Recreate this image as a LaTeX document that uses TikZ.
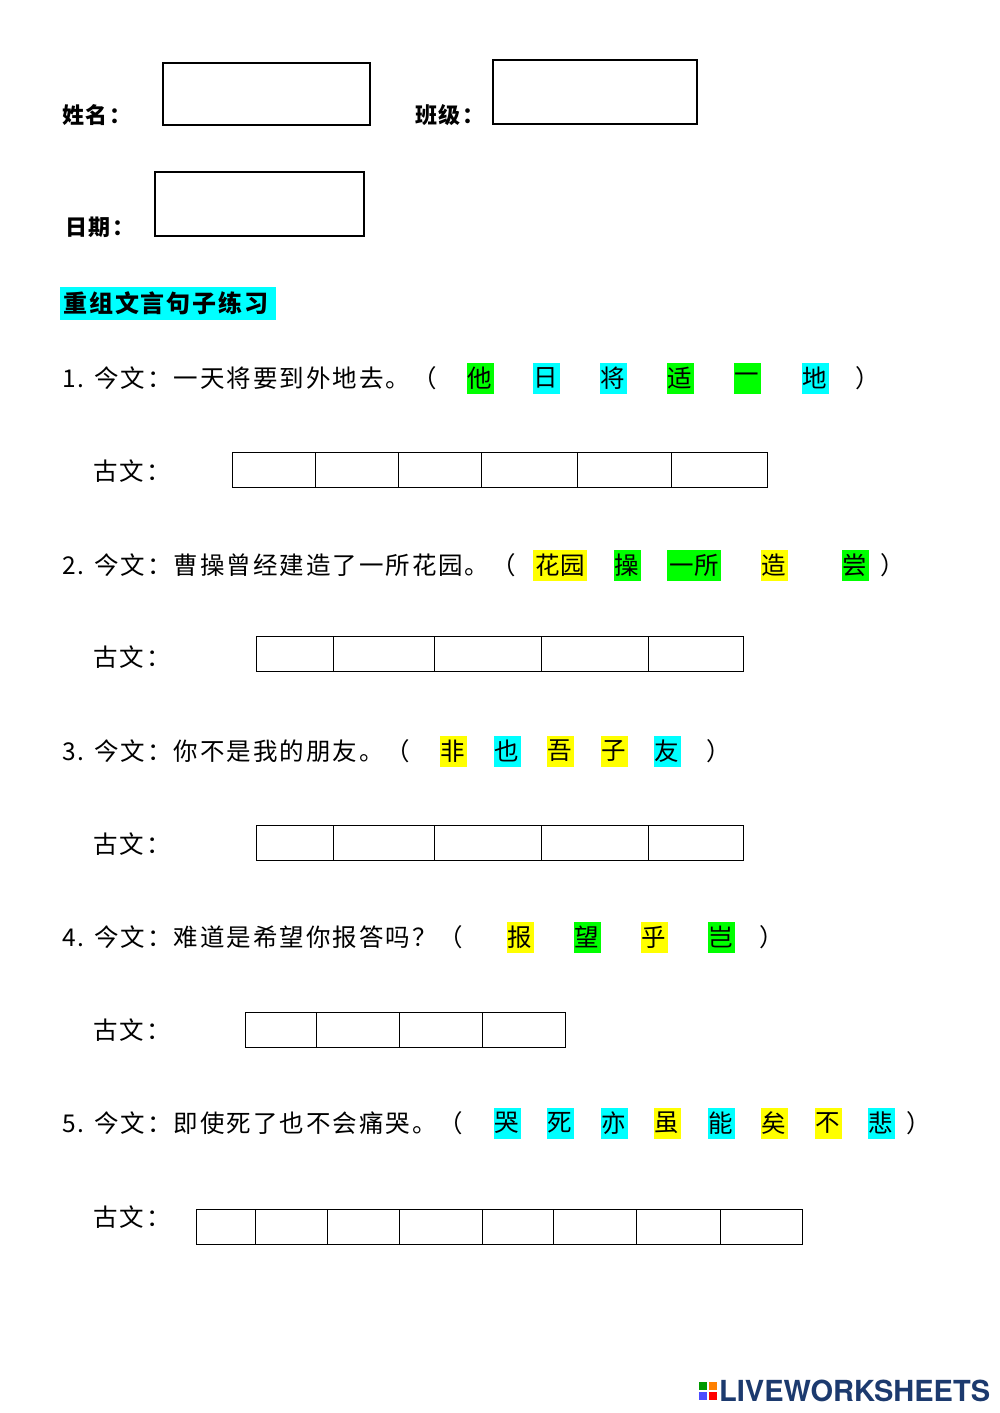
\documentclass[tikz,border=0pt]{standalone}
\usepackage{fontspec}
\setmainfont{Liberation Sans}
\newfontfamily\cjk[LetterSpace=8]{Noto Sans CJK SC}
\newfontfamily\cjkh{Noto Sans CJK SC}
\newfontfamily\logofont{TeX Gyre Heros}
\definecolor{hg}{RGB}{0,255,0}
\definecolor{hc}{RGB}{0,255,255}
\definecolor{hy}{RGB}{255,255,0}
\definecolor{logob}{RGB}{28,58,110}
\begin{document}
\begin{tikzpicture}[x=1pt,y=-1pt,
  txt/.style={anchor=west,inner sep=0pt,font=\fontsize{24.5}{26}\selectfont\cjk},
  hl/.style={inner sep=0pt,minimum width=27pt,minimum height=31pt,font=\fontsize{24.5}{26}\selectfont\cjkh},
  bx/.style={draw,line width=0.8pt}]
\useasboundingbox (0,0) rectangle (1000,1413);
\fill[white] (0,0) rectangle (1000,1413);
% header
\node[txt,font=\fontsize{22}{26}\selectfont\cjk\bfseries] (l1) at (62,115) {姓名：};
\draw[bx,line width=1.2pt] (163,63) rectangle (370,125);
\node[txt,font=\fontsize{22}{26}\selectfont\cjk\bfseries] (l2) at (415,115) {班级：};
\draw[bx,line width=1.2pt] (493,60) rectangle (697,124);
\node[txt,font=\fontsize{22}{26}\selectfont\cjk\bfseries] (l3) at (65,227) {日期：};
\draw[bx,line width=1.2pt] (155,172) rectangle (364,236);
\fill[hc] (60,287) rectangle (276,320);
\node[txt,font=\fontsize{24}{26}\selectfont\cjk\bfseries] (h) at (63,303) {重组文言句子练习};
% row 1
\node[txt] (r1) at (62,378) {1. 今文：一天将要到外地去。（};
\foreach \x/\c/\w in {480/hg/他,546/hc/日,613/hc/将,680/hg/适,747/hg/一,815/hc/地}
  \node[hl,fill=\c] at (\x,378) {\w};
\node[txt] (p1) at (855,378) {）};
\node[txt] (g1) at (93,471) {古文：};
\foreach \a/\b in {232/315,315/398,398/481,481/577,577/671,671/767}
  \draw[bx] (\a,452) rectangle (\b,487);
% row 2
\node[txt] (r2) at (62,565) {2. 今文：曹操曾经建造了一所花园。（};
\node[hl,fill=hy,minimum width=54pt] at (560,565) {花园};
\node[hl,fill=hg] at (627,565) {操};
\node[hl,fill=hg,minimum width=54pt] at (694,565) {一所};
\node[hl,fill=hy] at (774,565) {造};
\node[hl,fill=hg] at (855,565) {尝};
\node[txt] (p2) at (880,565) {）};
\node[txt] (g2) at (93,657) {古文：};
\foreach \a/\b in {256/333,333/434,434/541,541/648,648/743}
  \draw[bx] (\a,636) rectangle (\b,671);
% row 3
\node[txt] (r3) at (62,751) {3. 今文：你不是我的朋友。（};
\foreach \x/\c/\w in {453/hy/非,507/hc/也,560/hy/吾,614/hy/子,667/hc/友}
  \node[hl,fill=\c] at (\x,751) {\w};
\node[txt] (p3) at (706,751) {）};
\node[txt] (g3) at (93,844) {古文：};
\foreach \a/\b in {256/333,333/434,434/541,541/648,648/743}
  \draw[bx] (\a,825) rectangle (\b,860);
% row 4
\node[txt] (r4) at (62,937) {4. 今文：难道是希望你报答吗？（};
\foreach \x/\c/\w in {520/hy/报,587/hg/望,654/hy/乎,721/hg/岂}
  \node[hl,fill=\c] at (\x,937) {\w};
\node[txt] (p4) at (759,937) {）};
\node[txt] (g4) at (93,1030) {古文：};
\foreach \a/\b in {245/316,316/399,399/482,482/565}
  \draw[bx] (\a,1012) rectangle (\b,1047);
% row 5
\node[txt] (r5) at (62,1123) {5. 今文：即使死了也不会痛哭。（};
\foreach \x/\c/\w in {507/hc/哭,560/hc/死,614/hc/亦,667/hy/虽,721/hc/能,774/hy/矣,828/hy/不,881/hc/悲}
  \node[hl,fill=\c] at (\x,1123) {\w};
\node[txt] (p5) at (906,1123) {）};
\node[txt] (g5) at (93,1217) {古文：};
\foreach \a/\b in {196/255,255/327,327/399,399/482,482/553,553/636,636/720,720/802}
  \draw[bx] (\a,1209) rectangle (\b,1244);
% logo
\fill[green!60!black] (699,1382) rectangle (707,1390);
\fill[orange] (709,1382) rectangle (717,1390);
\fill[blue!70] (699,1392) rectangle (707,1400);
\fill[red] (709,1392) rectangle (717,1400);
\node[anchor=west,inner sep=0pt,text=logob,font=\fontsize{29}{30}\selectfont\logofont\bfseries] (logo) at (719,1391) {LIVEWORKSHEETS};
\end{tikzpicture}
\end{document}
